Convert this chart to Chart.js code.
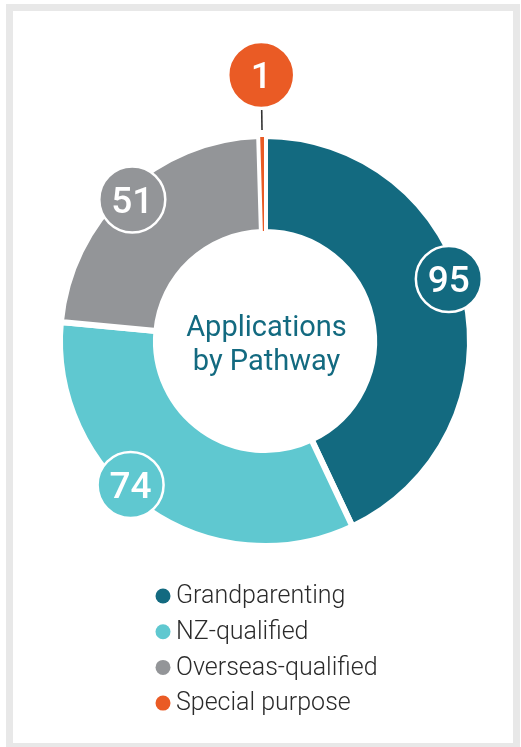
<!DOCTYPE html>
<html><head><meta charset="utf-8">
<script src="https://cdn.jsdelivr.net/npm/chart.js@4/dist/chart.umd.min.js"></script>
<style>
html,body{margin:0;padding:0;background:#fff;overflow:hidden;width:521px;height:747px}
#frame{position:absolute;left:6px;top:4px;width:514px;height:746px;border:7px solid #e8e8e8;box-sizing:border-box}
#wrap{position:absolute;left:0;top:0;width:521px;height:747px}
</style></head><body>
<div id="frame"></div>
<div id="wrap"><canvas id="c"></canvas></div>
<script>
// ---- data ----
const categories = ['Grandparenting', 'NZ-qualified', 'Overseas-qualified', 'Special purpose'];
const values = [95, 74, 51, 1];
const centerTitle = ['Applications', 'by Pathway'];

// ---- styling ----
const colors = ['#136a80', '#5fc8d0', '#939598', '#ea5b25'];
const borderWidths = [6, 6, 6, 2];
const labelAngleNudge = [-6, 8, 0, 0];     // degrees
const labelRadius = [194, 197, 194, 266];   // px from centre
const leader = [false, false, false, true];
const FONT = 'Roboto, "Noto Sans", sans-serif';

const valueLabels = {
  id: 'valueLabels',
  afterDatasetsDraw(chart) {
    const ctx = chart.ctx;
    const meta = chart.getDatasetMeta(0);
    meta.data.forEach((el, i) => {
      const p = el.getProps(['startAngle', 'endAngle', 'x', 'y', 'outerRadius'], true);
      const mid = (p.startAngle + p.endAngle) / 2 + labelAngleNudge[i] * Math.PI / 180;
      const r = labelRadius[i];
      const cx = p.x + r * Math.cos(mid);
      const cy = p.y + r * Math.sin(mid);
      ctx.save();
      if (leader[i]) {
        ctx.strokeStyle = '#333';
        ctx.lineWidth = 1.6;
        ctx.beginPath();
        ctx.moveTo(p.x + 211 * Math.cos(mid), p.y + 211 * Math.sin(mid));
        ctx.lineTo(p.x + 231 * Math.cos(mid), p.y + 231 * Math.sin(mid));
        ctx.stroke();
      }
      ctx.beginPath();
      ctx.arc(cx, cy, 33, 0, Math.PI * 2);
      ctx.fillStyle = colors[i];
      ctx.fill();
      ctx.lineWidth = 2.5;
      ctx.strokeStyle = '#fff';
      ctx.stroke();
      ctx.fillStyle = '#fff';
      ctx.font = '500 37px ' + FONT;
      ctx.textAlign = 'center';
      ctx.textBaseline = 'alphabetic';
      ctx.fillText(String(values[i]), cx, cy + 13);
      ctx.restore();
    });
  }
};

const centerText = {
  id: 'centerText',
  afterDraw(chart) {
    const ctx = chart.ctx;
    const el = chart.getDatasetMeta(0).data[0];
    const {x, y} = el.getProps(['x', 'y'], true);
    ctx.save();
    ctx.fillStyle = '#136a80';
    ctx.font = '400 29px ' + FONT;
    ctx.textAlign = 'center';
    ctx.textBaseline = 'alphabetic';
    ctx.fillText(centerTitle[0], x + 1.5, y - 5);
    ctx.fillText(centerTitle[1], x + 1.5, y + 29);
    ctx.restore();
  }
};

const customLegend = {
  id: 'customLegend',
  afterDraw(chart) {
    const ctx = chart.ctx;
    ctx.save();
    chart.data.labels.forEach((lab, i) => {
      const yy = 596 + i * 35.7;
      ctx.beginPath();
      ctx.arc(163, yy, 7.5, 0, Math.PI * 2);
      ctx.fillStyle = colors[i];
      ctx.fill();
      ctx.fillStyle = '#2b2b2b';
      ctx.font = '300 25px ' + FONT;
      ctx.textAlign = 'left';
      ctx.textBaseline = 'middle';
      ctx.fillText(lab, 176, yy + 1);
    });
    ctx.restore();
  }
};

new Chart(document.getElementById('c'), {
  type: 'doughnut',
  data: {
    labels: categories,
    datasets: [{
      data: values,
      backgroundColor: colors,
      borderColor: '#ffffff',
      borderWidth: borderWidths,
      hoverOffset: 0
    }]
  },
  options: {
    responsive: true,
    maintainAspectRatio: false,
    animation: false,
    cutout: '53.2%',
    rotation: 0,
    layout: { padding: { left: 57, right: 48, top: 133, bottom: 198 } },
    plugins: {
      legend: { display: false },
      tooltip: { enabled: false }
    }
  },
  plugins: [valueLabels, centerText, customLegend]
});
</script>
</body></html>
